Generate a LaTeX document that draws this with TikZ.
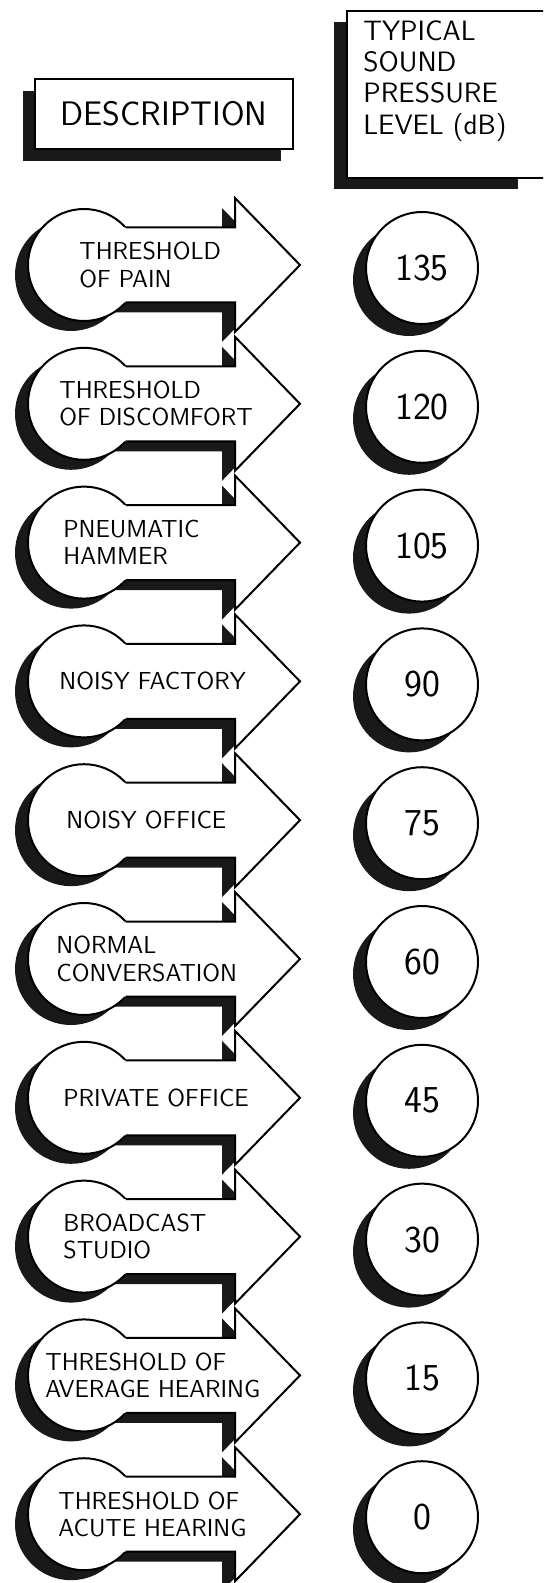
\documentclass[tikz,border=0pt]{standalone}
\usetikzlibrary{shadows}

\tikzset{
  shade black/.style={fill=black!90},
  outline/.style={draw=black, line width=1pt, fill=white},
  headbox/.style={outline, rectangle, inner sep=0pt},
  headtext/.style={inner sep=0pt, align=left,
    font=\sffamily\fontsize{14}{15.7}\selectfont},
  levelbubble/.style={outline, circle, minimum size=56pt, inner sep=0pt,
    drop shadow={shadow xshift=-6.5pt, shadow yshift=-6pt, opacity=1, fill=black!90},
    font=\sffamily\fontsize{19}{21}\selectfont},
  desctext/.style={anchor=west, inner sep=0pt, align=left,
    font=\sffamily\fontsize{12.3}{13.6}\selectfont},
}

\begin{document}
\begin{tikzpicture}[x=0.5pt, y=-0.5pt]
  \useasboundingbox (0,0) rectangle (543,1583);
  \clip (0,0) rectangle (543,1583);

  % column heads
  \fill[shade black] (23,91) rectangle (281,161);
  \node[headbox, minimum width=129pt, minimum height=35pt] (deschead) at (164,114) {};
  \node[headtext, font=\sffamily\fontsize{17}{19}\selectfont] (desctitle) at (deschead) {DESCRIPTION};
  \fill[shade black] (334,22) rectangle (518,189);
  \node[headbox, anchor=north west, minimum width=101pt, minimum height=83.5pt] (levelhead) at (346,10) {};
  \node[headtext, anchor=north west] (leveltitle) at (363,20)
        {TYPICAL\\SOUND\\PRESSURE\\LEVEL (dB)};

  % one row per source
  \foreach \i/\desc/\tx/\level in {0/{THRESHOLD\\OF PAIN}/79/135,
      1/{THRESHOLD\\OF DISCOMFORT}/59/120, 2/{PNEUMATIC\\HAMMER}/63/105,
      3/{NOISY FACTORY}/59/90, 4/{NOISY OFFICE}/66/75,
      5/{NORMAL\\CONVERSATION}/56/60, 6/{PRIVATE OFFICE}/63/45,
      7/{BROADCAST\\STUDIO}/63/30, 8/{THRESHOLD OF\\AVERAGE HEARING}/45/15,
      9/{THRESHOLD OF\\ACUTE HEARING}/58/0} {
    \pgfmathsetmacro{\c}{265+138.8*\i}
    % shadow of the arrow
    \begin{scope}[shift={(-13,10)}]
      \fill[shade black] (84,\c) circle[radius=56];
      \fill[shade black] (84,\c-37.5) -- (235,\c-37.5) -- (235,\c-67) -- (300,\c)
        -- (235,\c+67) -- (235,\c+37.5) -- (84,\c+37.5) -- cycle;
    \end{scope}
    % arrow
    \draw[outline] (84,\c) circle[radius=56];
    \fill[white] (84,\c-37.5) -- (235,\c-37.5) -- (235,\c-67) -- (300,\c)
      -- (235,\c+67) -- (235,\c+37.5) -- (84,\c+37.5) -- cycle;
    \draw[line width=1pt] (125.6,\c-37.5) -- (235,\c-37.5) -- (235,\c-67) -- (300,\c)
      -- (235,\c+67) -- (235,\c+37.5) -- (125.6,\c+37.5);
    \node[desctext] (desc\i) at (\tx,\c) {\desc};
    % level
    \node[levelbubble] (level\i) at (422,\c+3) {\level};
  }
\end{tikzpicture}
\end{document}
